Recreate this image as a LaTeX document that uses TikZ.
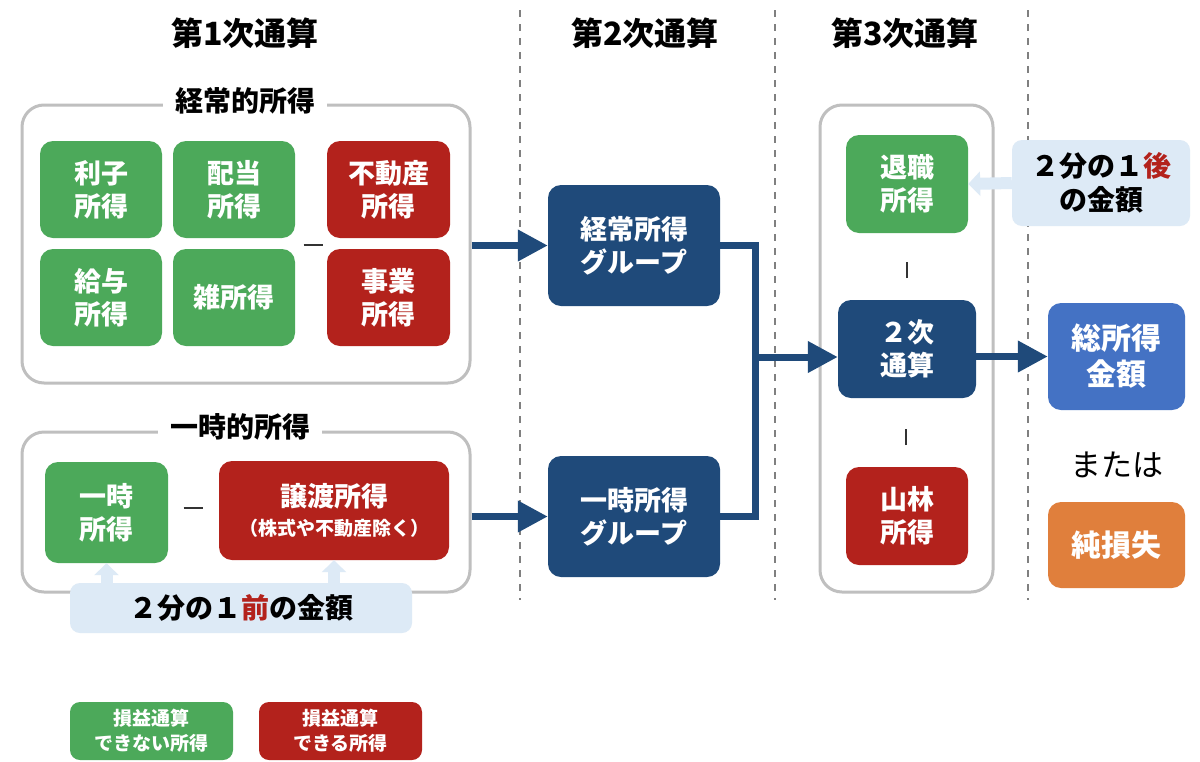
\documentclass[tikz,border=0pt]{standalone}
\usepackage{fontspec}
\setmainfont{Noto Sans CJK JP}
\usetikzlibrary{arrows.meta}
\definecolor{cgreen}{HTML}{4CA95A}
\definecolor{cred}{HTML}{B3221C}
\definecolor{cnavy}{HTML}{1F4A7A}
\definecolor{cblue}{HTML}{4472C4}
\definecolor{corange}{HTML}{E07F3C}
\definecolor{clight}{HTML}{DDEAF6}
\definecolor{cgray}{HTML}{BFBFBF}
\definecolor{cdash}{HTML}{808080}
\begin{document}
\begin{tikzpicture}[x=1pt,y=-1pt,
  box/.style={rounded corners=13pt, text=white, font=\fontsize{27}{33}\selectfont\bfseries, align=center, inner sep=0pt},
  gbox/.style={box, fill=cgreen},
  rbox/.style={box, fill=cred},
  nbox/.style={box, fill=cnavy},
  group/.style={draw=cgray, line width=3pt, rounded corners=22pt, inner sep=0pt},
  glabel/.style={fill=white, inner xsep=12pt, inner ysep=2pt, font=\fontsize{28}{32}\selectfont\bfseries},
  title/.style={font=\fontsize{32}{36}\selectfont\bfseries},
  note/.style={fill=clight, rounded corners=10pt, inner sep=0pt, align=center, font=\fontsize{28}{34}\selectfont\bfseries},
  sign/.style={inner sep=0pt, text=black!80},
  navyarrow/.style={draw=cnavy, line width=7pt, -{Triangle[length=30pt,width=30pt]}},
  navyline/.style={draw=cnavy, line width=7pt},
  lbarrow/.style={draw=clight, line width=12pt, -{Triangle[length=12pt,width=24pt]}},
  dashline/.style={draw=cdash, line width=1.2pt, dash pattern=on 7pt off 7pt},
  legend/.style={box, rounded corners=10pt, font=\fontsize{19}{25}\selectfont\bfseries}
]
\useasboundingbox (0,0) rectangle (1200,761);
\fill[white] (0,0) rectangle (1200,761);

% dashed separators
\draw[dashline] (520,10) -- (520,600);
\draw[dashline] (775,10) -- (775,600);
\draw[dashline] (1028,10) -- (1028,600);

% titles
\node[title] (t1) at (245,33) {第1次通算};
\node[title] (t2) at (645,33) {第2次通算};
\node[title] (t3) at (905,33) {第3次通算};

% ordinary income group
\node[group, minimum width=448pt, minimum height=278pt] (keijoBox) at (246,244) {};
\node[glabel] (keijoLbl) at (245,101) {経常的所得};
\node[gbox, minimum width=122pt, minimum height=97pt] (rishi) at (101,189.5) {利子\\所得};
\node[gbox, minimum width=122pt, minimum height=97pt] (haito) at (234,189.5) {配当\\所得};
\node[gbox, minimum width=122pt, minimum height=97pt] (kyuyo) at (101,297.5) {給与\\所得};
\node[gbox, minimum width=122pt, minimum height=97pt] (zatsu) at (234,297.5) {雑所得};
\node[rbox, minimum width=123pt, minimum height=97pt] (fudosan) at (388.5,189.5) {不動産\\所得};
\node[rbox, minimum width=123pt, minimum height=97pt] (jigyo) at (388.5,297.5) {事業\\所得};
\node[sign] (minus1) at (313,245) {\rule{19pt}{2pt}};

% temporary income group
\node[group, minimum width=448pt, minimum height=160pt] (ichijiBox) at (246,512) {};
\node[glabel] (ichijiLbl) at (240,427) {一時的所得};
\node[gbox, minimum width=123pt, minimum height=101pt] (ichiji) at (106.5,512.5) {一時\\所得};
\node[sign] (minus2) at (193,508) {\rule{19pt}{2pt}};
\node[rbox, minimum width=230pt, minimum height=99pt] (joto) at (334,510.5) {譲渡所得\\[-4pt]{\fontsize{19}{22}\selectfont（株式や不動産除く）}};
\node[note, minimum width=342pt, minimum height=50pt] (maeBox) at (241,608) {２分の１{\color{cred}前}の金額};
\draw[lbarrow] (maeBox.north -| ichiji.south) -- (ichiji.south);
\draw[lbarrow] (maeBox.north -| joto.south) -- (joto.south);

% second stage
\node[nbox, minimum width=172pt, minimum height=121pt] (keijoG) at (634,245.5) {経常所得\\グループ};
\node[nbox, minimum width=172pt, minimum height=121pt] (ichijiG) at (634,516.5) {一時所得\\グループ};
\draw[navyarrow] (keijoBox.east |- keijoG.west) -- (keijoG.west);
\draw[navyarrow] (ichijiBox.east |- ichijiG.west) -- (ichijiG.west);
\coordinate (jn) at (755,357);
\draw[navyline] (keijoG.east) -| (jn);
\draw[navyline] (ichijiG.east) -| (jn);

% third stage
\node[group, minimum width=173pt, minimum height=487pt] (thirdBox) at (906.5,348.5) {};
\node[gbox, minimum width=122pt, minimum height=98pt] (taishoku) at (907,184) {退職\\所得};
\node[sign] (bar1) at (907,270) {\rule{2pt}{16pt}};
\node[nbox, minimum width=138pt, minimum height=98pt] (niji) at (907,349) {２次\\通算};
\node[sign] (bar2) at (906,437) {\rule{2pt}{16pt}};
\node[rbox, minimum width=122pt, minimum height=98pt] (sanrin) at (907,516) {山林\\所得};
\draw[navyarrow] (jn) -- (jn -| niji.west);

\node[note, minimum width=178pt, minimum height=86pt] (atoBox) at (1101,183) {２分の１{\color{cred}後}\\の金額};
\draw[lbarrow] (atoBox.west) -- (taishoku.east);

% result
\node[box, fill=cblue, minimum width=137pt, minimum height=107pt, font=\fontsize{30}{36}\selectfont\bfseries] (sosho) at (1116.5,356.5) {総所得\\金額};
\draw[navyarrow] (niji.east |- sosho.west) -- (sosho.west);
\node[font=\fontsize{31}{34}\selectfont] (mataha) at (1117,465) {または};
\node[box, fill=corange, minimum width=137pt, minimum height=86pt, font=\fontsize{30}{36}\selectfont\bfseries] (jun) at (1116.5,545) {純損失};

% legend
\node[legend, fill=cgreen, minimum width=163pt, minimum height=58pt] (legG) at (151.5,731) {損益通算\\できない所得};
\node[legend, fill=cred, minimum width=163pt, minimum height=58pt] (legR) at (340.5,731) {損益通算\\できる所得};
\end{tikzpicture}
\end{document}
